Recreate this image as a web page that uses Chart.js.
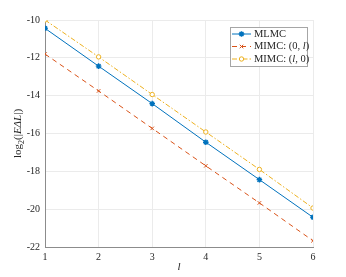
<!DOCTYPE html>
<html>
<head>
<meta charset="utf-8">
<script src="https://cdn.jsdelivr.net/npm/chart.js@4/dist/chart.umd.min.js"></script>
<style>
  html, body { margin: 0; padding: 0; background: #fff; }
  #wrap { width: 346px; height: 277px; }
</style>
</head>
<body>
<div id="wrap"><canvas id="chart"></canvas></div>
<script>
// data
const levels = [1, 2, 3, 4, 5, 6];
const mlmc = [-10.44, -12.44, -14.42, -16.46, -18.44, -20.43];
const mimc0l = [-11.80, -13.75, -15.73, -17.71, -19.67, -21.67];
const mimcl0 = [-10.00, -11.95, -13.94, -15.92, -17.90, -19.94];
const yTicks = [-22, -20, -18, -16, -14, -12, -10];
const seriesNames = ['MLMC', 'MIMC: (0, l)', 'MIMC: (l, 0)'];

const serif = '"Liberation Serif", "DejaVu Serif", serif';

function toXY(vals) {
    return vals.map((v, i) => ({ x: levels[i], y: v }));
}

// axis titles + legend drawn by hand (MATLAB/LaTeX look)
const extras = {
    id: 'extras',
    afterDraw(chart) {
        const c = chart.ctx;
        const area = chart.chartArea;
        c.save();
        c.fillStyle = '#262626';

        // x label
        c.font = 'italic 11px ' + serif;
        c.textAlign = 'center';
        c.textBaseline = 'alphabetic';
        c.fillText('l', (area.left + area.right) / 2, 270);

        // y label: log2(|EΔL|)
        c.translate(21, (area.top + area.bottom) / 2);
        c.rotate(-Math.PI / 2);
        const parts = [
            { t: 'log', f: '11px ' + serif, dy: 0 },
            { t: '2', f: '8px ' + serif, dy: 3 },
            { t: '(|', f: '11px ' + serif, dy: 0 },
            { t: 'EΔL', f: 'italic 11px ' + serif, dy: 0 },
            { t: '|)', f: '11px ' + serif, dy: 0 }
        ];
        let total = 0;
        parts.forEach(p => { c.font = p.f; total += c.measureText(p.t).width; });
        let x = -total / 2;
        c.textAlign = 'left';
        parts.forEach(p => {
            c.font = p.f;
            c.fillText(p.t, x, p.dy);
            x += c.measureText(p.t).width;
        });
        c.restore();

        // legend
        c.save();
        const lx = 230, ly = 27, lw = 77, lh = 39;
        c.fillStyle = '#fff';
        c.fillRect(lx, ly, lw, lh);
        c.strokeStyle = '#a6a6a6';
        c.lineWidth = 1;
        c.strokeRect(lx + 0.5, ly + 0.5, lw, lh);
        chart.data.datasets.forEach((ds, i) => {
            const yy = ly + 7 + i * 12.5;
            c.strokeStyle = ds.borderColor;
            c.lineWidth = 1;
            c.setLineDash(ds.borderDash || []);
            c.beginPath();
            c.moveTo(lx + 2, yy);
            c.lineTo(lx + 21, yy);
            c.stroke();
            c.setLineDash([]);

            c.fillStyle = ds.pointBackgroundColor;
            c.strokeStyle = ds.borderColor;
            c.lineWidth = ds.pointBorderWidth;
            Chart.helpers.drawPoint(c, {
                pointStyle: ds.pointStyle,
                radius: ds.pointRadius,
                borderWidth: ds.pointBorderWidth
            }, lx + 11.5, yy);

            c.fillStyle = '#262626';
            c.textAlign = 'left';
            c.textBaseline = 'middle';
            const name = ds.label;
            let tx = lx + 24;
            if (name === 'MLMC') {
                c.font = '10.5px ' + serif;
                c.fillText(name, tx, yy);
            } else {
                // italic l inside the labels
                const m = name.match(/^(.*?)(l)(.*)$/);
                const segs = [
                    { t: m[1], f: '10.5px ' + serif },
                    { t: 'l', f: 'italic 10.5px ' + serif },
                    { t: m[3], f: '10.5px ' + serif }
                ];
                segs.forEach(s => {
                    c.font = s.f;
                    c.fillText(s.t, tx, yy);
                    tx += c.measureText(s.t).width;
                });
            }
        });
        c.restore();
    }
};

new Chart(document.getElementById('chart'), {
    type: 'line',
    data: {
        datasets: [
            {
                label: seriesNames[0],
                data: toXY(mlmc),
                borderColor: '#0072BD',
                backgroundColor: '#0072BD',
                borderWidth: 1,
                pointStyle: 'star',
                pointRadius: 2.8,
                pointBorderWidth: 1.4,
                pointBackgroundColor: '#0072BD',
                pointBorderColor: '#0072BD'
            },
            {
                label: seriesNames[1],
                data: toXY(mimc0l),
                borderColor: '#D95319',
                backgroundColor: '#D95319',
                borderWidth: 1,
                borderDash: [5, 4],
                pointStyle: 'crossRot',
                pointRadius: 2.5,
                pointBorderWidth: 1,
                pointBackgroundColor: '#D95319',
                pointBorderColor: '#D95319'
            },
            {
                label: seriesNames[2],
                data: toXY(mimcl0),
                borderColor: '#EDB120',
                backgroundColor: '#EDB120',
                borderWidth: 1,
                borderDash: [5, 2, 1.5, 2],
                pointStyle: 'circle',
                pointRadius: 2.2,
                pointBorderWidth: 1,
                pointBackgroundColor: '#fff',
                pointBorderColor: '#EDB120'
            }
        ]
    },
    options: {
        responsive: true,
        maintainAspectRatio: false,
        animation: false,
        layout: { padding: { top: 20, right: 33, left: 0, bottom: 0 } },
        plugins: {
            legend: { display: false },
            tooltip: { enabled: false }
        },
        scales: {
            x: {
                type: 'linear',
                min: 1,
                max: 6,
                afterFit: s => { s.height = 30; },
                afterBuildTicks: s => { s.ticks = levels.map(v => ({ value: v })); },
                grid: { color: '#ebebeb', drawTicks: false },
                border: { color: '#8c8c8c', width: 1 },
                ticks: {
                    padding: 4,
                    color: '#262626',
                    font: { family: serif, size: 10 }
                }
            },
            y: {
                type: 'linear',
                min: -22,
                max: -10,
                afterFit: s => { s.width = 45; },
                afterBuildTicks: s => { s.ticks = yTicks.map(v => ({ value: v })); },
                grid: { color: '#ebebeb', drawTicks: false },
                border: { color: '#8c8c8c', width: 1 },
                ticks: {
                    padding: 5,
                    color: '#262626',
                    font: { family: serif, size: 10 },
                    callback: v => '-' + Math.abs(v)
                }
            }
        }
    },
    plugins: [extras]
});
</script>
</body>
</html>
